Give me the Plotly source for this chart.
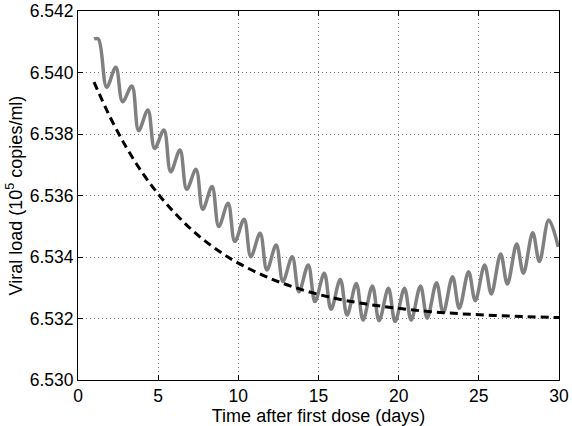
import plotly.graph_objects as go

# Gray oscillating series
gray_t = [1.0, 1.27, 1.79, 2.36, 2.78, 3.36, 3.78, 4.36, 4.78, 5.36, 5.78, 6.36, 6.78,
          7.36, 7.78, 8.36, 8.78, 9.36, 9.78, 10.36, 10.78, 11.36, 11.78, 12.36, 12.78,
          13.36, 13.78, 14.36, 14.78, 15.36, 15.78, 16.36, 16.78, 17.36, 17.78, 18.36, 18.78,
          19.36, 19.78, 20.36, 20.78, 21.36, 21.78, 22.36, 22.78, 23.36, 23.78, 24.36, 24.78,
          25.36, 25.78, 26.36, 26.78, 27.36, 27.78, 28.36, 28.78, 29.36, 29.95]
gray_v = [6.54109, 6.54109, 6.53952, 6.54017, 6.53905, 6.53956, 6.53811, 6.53878, 6.53753,
          6.53813, 6.53677, 6.53748, 6.53620, 6.53685, 6.53555, 6.53629, 6.53499, 6.53575,
          6.53450, 6.53523, 6.53401, 6.53477, 6.53358, 6.53439, 6.53320, 6.53401, 6.53287,
          6.53374, 6.53255, 6.53347, 6.53230, 6.53327, 6.53211, 6.53314, 6.53195, 6.53306,
          6.53193, 6.53298, 6.53190, 6.53298, 6.53195, 6.53306, 6.53201, 6.53316, 6.53219,
          6.53336, 6.53233, 6.53352, 6.53258, 6.53374, 6.53280, 6.53410, 6.53312, 6.53442,
          6.53347, 6.53479, 6.53385, 6.53520, 6.53433]

# Dashed black series
dash_t = [1, 2, 3, 4, 5, 6, 7, 8, 9, 10, 12, 14, 16, 18, 20, 22, 24, 26, 28, 30]
dash_v = [6.53969, 6.53855, 6.53758, 6.53675, 6.53605, 6.53545, 6.53493, 6.53449, 6.53412,
          6.53380, 6.53330, 6.53293, 6.53266, 6.53247, 6.53233, 6.53222, 6.53215, 6.53210,
          6.53206, 6.53203]

x_ticks = [0, 5, 10, 15, 20, 25, 30]
y_ticks = [6.530, 6.532, 6.534, 6.536, 6.538, 6.540, 6.542]
y_ticklabels = ["6.530", "6.532", "6.534", "6.536", "6.538", "6.540", "6.542"]

fig = go.Figure()
fig.add_trace(go.Scatter(x=gray_t, y=gray_v, mode="lines",
                         line=dict(color="#808080", width=3.5, shape="spline", smoothing=1.0),
                         showlegend=False))
fig.add_trace(go.Scatter(x=dash_t, y=dash_v, mode="lines",
                         line=dict(color="black", width=3, dash="8px,5px", shape="spline"),
                         showlegend=False))

font = dict(family="Liberation Sans, Arial, sans-serif", size=17.5, color="black")
axis_common = dict(showline=True, linecolor="black", linewidth=1, mirror="ticks",
                   ticks="inside", ticklen=5, tickcolor="black", showgrid=True,
                   gridcolor="#777777", griddash="1px,3px", gridwidth=1, zeroline=False,
                   tickfont=font, automargin=False)

fig.update_layout(
    width=572, height=426,
    margin=dict(l=78, r=13, t=11, b=46),
    paper_bgcolor="white", plot_bgcolor="white",
    font=font,
    xaxis=dict(range=[0, 30], tickvals=x_ticks, ticktext=[str(v) for v in x_ticks],
               title=dict(text="Time after first dose (days)", font=dict(size=18), standoff=2),
               **axis_common),
    yaxis=dict(range=[6.530, 6.542], tickvals=y_ticks, ticktext=y_ticklabels,
               title=dict(text="Viral load (10<sup>5</sup> copies/ml)", font=dict(size=18), standoff=2),
               **axis_common),
)

fig.write_html("out.html")
